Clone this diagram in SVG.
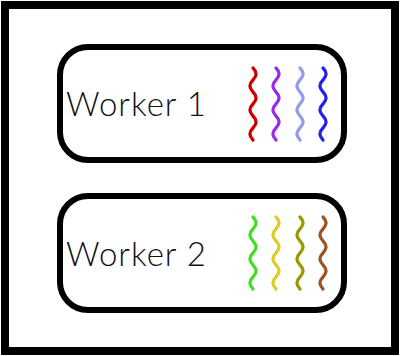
<svg xmlns="http://www.w3.org/2000/svg" width="400" height="356" viewBox="0 0 400 356">
<style>
.frame{fill:#fff;stroke:#000;stroke-width:8}
.box{fill:#fff;stroke:#000;stroke-width:6}
.lbl{font-family:Lato,"Open Sans",sans-serif;font-size:33px;font-weight:300;letter-spacing:1px;fill:#111}
.w{fill:none;stroke-width:3.2;stroke-linecap:round}
</style>
<defs>
<path id="wave" d="M0,0 q6,6 0,12 t0,12 t0,12 t0,12 t0,12 t0,12"/>
</defs>
<rect class="frame" x="5" y="5" width="390" height="346"/>
<g id="worker1">
<rect class="box" x="60" y="47" width="284" height="113" rx="28"/>
<text class="lbl" x="66" y="116">Worker 1</text>
<use href="#wave" class="w" x="253" y="68" stroke="#cc0000"/>
<use href="#wave" class="w" x="276" y="68" stroke="#9a2be8"/>
<use href="#wave" class="w" x="300" y="68" stroke="#9999ee"/>
<use href="#wave" class="w" x="323" y="68" stroke="#2222e8"/>
</g>
<g id="worker2">
<rect class="box" x="60" y="196" width="284" height="114" rx="28"/>
<text class="lbl" x="66" y="266">Worker 2</text>
<use href="#wave" class="w" x="253" y="217" stroke="#44dd22"/>
<use href="#wave" class="w" x="276" y="217" stroke="#ddcc22"/>
<use href="#wave" class="w" x="300" y="217" stroke="#999900"/>
<use href="#wave" class="w" x="323" y="217" stroke="#995522"/>
</g>
<g id="connectors"/>
</svg>
